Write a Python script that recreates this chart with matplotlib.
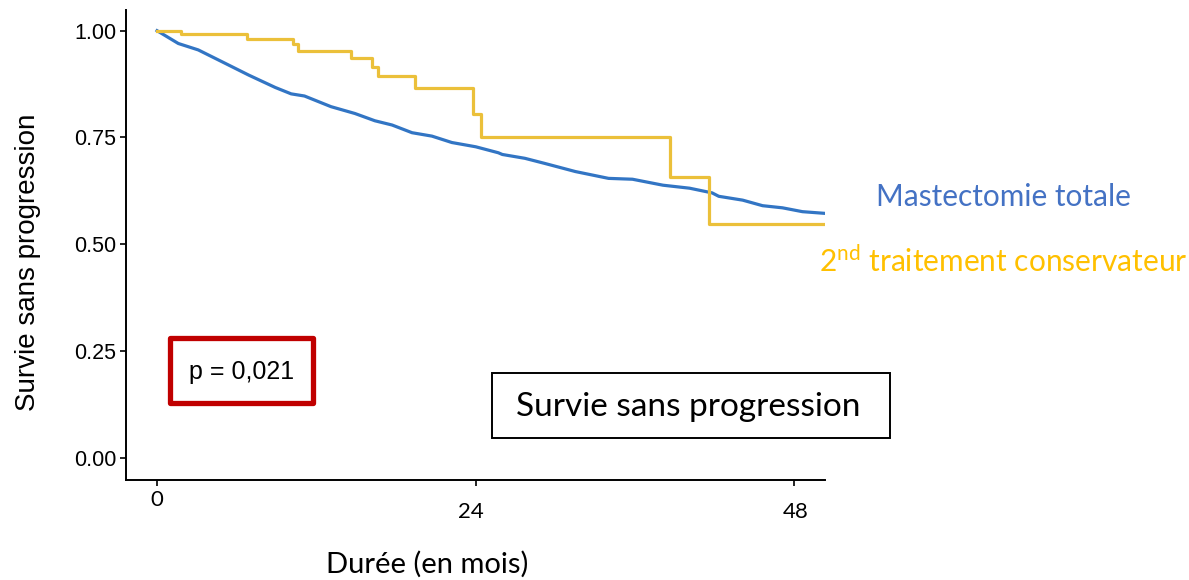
import matplotlib
matplotlib.use('Agg')
import matplotlib.pyplot as plt
from matplotlib.patches import Rectangle
from matplotlib.transforms import ScaledTranslation

plt.rcParams['mathtext.fontset'] = 'custom'
plt.rcParams['mathtext.rm'] = 'Lato'

# Kaplan-Meier curves (months, survival)
t_mast = [0, 1.6, 3.1, 5.1, 6.9, 8.9, 10.1, 11.1, 13.1, 14.9, 16.4, 17.7, 19.2, 20.7,
          22.2, 24.0, 25.7, 26.0, 27.7, 29.2, 31.5, 34.0, 35.8, 38.1, 40.1, 41.8,
          42.3, 44.1, 45.6, 47.1, 48.6, 50.3]
s_mast = [1.0, 0.970, 0.955, 0.924, 0.896, 0.867, 0.852, 0.847, 0.822, 0.806, 0.789,
          0.779, 0.761, 0.753, 0.738, 0.728, 0.714, 0.710, 0.701, 0.689, 0.670, 0.654,
          0.652, 0.638, 0.631, 0.620, 0.612, 0.603, 0.590, 0.585, 0.576, 0.572]

t_cons = [0, 1.8, 6.8, 10.2, 10.6, 14.6, 16.2, 16.6, 19.4, 23.8, 24.4, 38.6, 41.6, 50.3]
s_cons = [1.0, 0.992, 0.980, 0.968, 0.952, 0.935, 0.916, 0.894, 0.865, 0.806, 0.750,
          0.657, 0.547, 0.547]

x_ticks = [0, 24, 48]
y_ticks = [0.0, 0.25, 0.5, 0.75, 1.0]
y_ticklabels = ['0.00', '0.25', '0.50', '0.75', '1.00']

W, H = 1189, 580
def fx(x): return x / W
def fy(y): return 1 - y / H

fig = plt.figure(figsize=(W / 100, H / 100), dpi=100)
ax = fig.add_axes([fx(126), fy(480), fx(825) - fx(126), fy(10) - fy(480)])

ax.plot(t_mast, s_mast, color='#3275C4', lw=2.3, solid_joinstyle='round')
ax.plot(t_cons, s_cons, color='#EBC03A', lw=2.3, drawstyle='steps-post')

ax.set_xlim(-2.34, 50.3)
ax.set_ylim(-0.0527, 1.0485)
for side in ['top', 'right']:
    ax.spines[side].set_visible(False)
for side in ['left', 'bottom']:
    ax.spines[side].set_linewidth(1.4)

ax.set_yticks(y_ticks, y_ticklabels, fontsize=15.5, family='Liberation Sans')
ax.set_xticks(x_ticks, [str(v) for v in x_ticks], fontsize=16, family='Lato')
ax.tick_params(length=4, width=1.2, pad=3)

# the x tick labels sit a bit off in the source
xl = ax.get_xticklabels()
shifts = [(0, 0), (-5, -12), (1, -12)]
for lab, (dx, dy) in zip(xl, shifts):
    lab.set_transform(lab.get_transform() + ScaledTranslation(dx / 100, dy / 100, fig.dpi_scale_trans))

fig.text(fx(28), fy(262), 'Survie sans progression', rotation=90, fontsize=20,
         family='Liberation Sans', ha='center', va='center')
fig.text(fx(427), fy(564), 'Durée (en mois)', fontsize=21, family='Lato',
         ha='center', va='center')

fig.text(fx(1003), fy(197), 'Mastectomie totale', fontsize=21.5, family='Lato',
         color='#4472C4', ha='center', va='center')
fig.text(fx(1003), fy(261), r'$\mathregular{2^{nd}}$ traitement conservateur', fontsize=21.5,
         family='Lato', color='#FFC000', ha='center', va='center')

# p-value box
fig.add_artist(Rectangle((fx(170), fy(403)), fx(313) - fx(170), fy(338) - fy(403),
                         transform=fig.transFigure, fill=False, ec='#C00000', lw=3.8,
                         joinstyle='round'))
fig.text(fx(242), fy(372), 'p = 0,021', fontsize=18, family='Liberation Sans',
         ha='center', va='center')

# title box
fig.add_artist(Rectangle((fx(492), fy(438)), fx(890) - fx(492), fy(373) - fy(438),
                         transform=fig.transFigure, fill=False, ec='black', lw=1.4))
fig.text(fx(688), fy(407), 'Survie sans progression', fontsize=24, family='Lato',
         ha='center', va='center')

fig.savefig('out.png', dpi=100)
